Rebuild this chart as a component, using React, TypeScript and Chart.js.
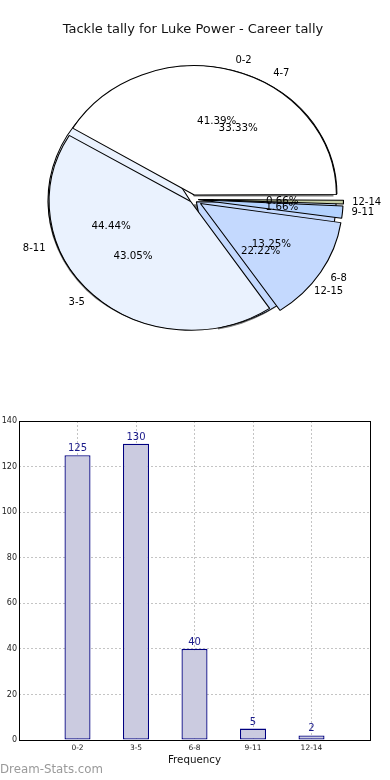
import React, { useEffect, useRef } from 'react';
import { Chart, registerables } from 'chart.js';

Chart.register(...registerables);

// ---------- data ----------
const TITLE = 'Tackle tally for Luke Power - Career tally';

const pieLabels = ['0-2', '3-5', '6-8', '9-11', '12-14'];
const pieValues = [125, 130, 40, 5, 2];

const backLabels = ['4-7', '8-11', '12-15'];
const backValues = [3, 4, 2];

const barCategories = ['0-2', '3-5', '6-8', '9-11', '12-14'];
const barValues = [125, 130, 40, 5, 2];
const yMax = 140;
const yStep = 20;
const xTitle = 'Frequency';
const watermark = 'Dream-Stats.com';

// ---------- styles ----------
const pieColors = ['#ffffff', '#eaf2fe', '#c4d9fe', '#b3d2fe', '#c6cfa4'];
const backColors = ['#ffffff', '#eaf2fe', '#c4d9fe'];
const pieExplode = [4.5, 3, 8, 5, 5];
const backExplode = [6, 3, 4];
const FONT = 'DejaVu Sans';
const SX = 1.1; // horizontal stretch of the pie (ellipse)
const PIE_R = 127;
const SHADOW_X = -2.5;
const SHADOW_Y = 2.5;

function arcGeom(arc: any) {
  const p = arc.getProps(['x', 'y', 'startAngle', 'endAngle', 'outerRadius'], true);
  const off = (arc.options.offset || 0) / 4;
  const mid = (p.startAngle + p.endAngle) / 2;
  return { cx: p.x, cy: p.y, s: p.startAngle, e: p.endAngle, R: p.outerRadius, off, mid };
}

function makeEllipsePlugin(withShadow: boolean) {
  return {
    id: 'ellipsePie',
    beforeDatasetsDraw(chart: any) {
      const ctx = chart.ctx;
      const arcs = chart.getDatasetMeta(0).data;
      if (!arcs.length) return;
      const cx = arcs[0].x;
      const cy = arcs[0].y;
      ctx.save();
      ctx.translate(cx, cy);
      ctx.scale(SX, 1);
      ctx.translate(-cx, -cy);
      if (withShadow) {
        ctx.save();
        ctx.fillStyle = 'rgba(35,35,35,0.6)';
        arcs.forEach((arc: any) => {
          const g = arcGeom(arc);
          const ax = g.cx + Math.cos(g.mid) * g.off + SHADOW_X / SX;
          const ay = g.cy + Math.sin(g.mid) * g.off + SHADOW_Y;
          ctx.beginPath();
          ctx.moveTo(ax, ay);
          ctx.arc(ax, ay, g.R, g.s, g.e);
          ctx.closePath();
          ctx.fill();
        });
        ctx.restore();
      }
    },
    afterDatasetsDraw(chart: any) {
      const arcs = chart.getDatasetMeta(0).data;
      if (!arcs.length) return;
      chart.ctx.restore();
    },
  };
}

function drawPieText(ctx: CanvasRenderingContext2D, chart: any) {
  const meta = chart.getDatasetMeta(0);
  const data = chart.data.datasets[0].data as number[];
  const labels = chart.data.labels as string[];
  const total = data.reduce((a, b) => a + b, 0);
  ctx.save();
  ctx.fillStyle = '#000';
  ctx.textBaseline = 'middle';
  meta.data.forEach((arc: any, i: number) => {
    const g = arcGeom(arc);
    const c = Math.cos(g.mid);
    const s = Math.sin(g.mid);
    const bx = g.off * c;
    const by = g.off * s;
    ctx.font = `10px "${FONT}"`;
    ctx.textAlign = c >= 0 ? 'left' : 'right';
    ctx.fillText(labels[i], g.cx + SX * (bx + 1.1 * g.R * c), g.cy + by + 1.1 * g.R * s);
    ctx.font = `10.3px "${FONT}"`;
    ctx.textAlign = 'center';
    ctx.fillText(((data[i] / total) * 100).toFixed(2) + '%', g.cx + SX * (bx + 0.6 * g.R * c), g.cy + by + 0.6 * g.R * s);
  });
  ctx.restore();
}

function pieConfig(labels: string[], values: number[], colors: string[], explode: number[], titleColor: string, withShadow: boolean, extraPlugins: any[]) {
  return {
    type: 'pie' as const,
    data: {
      labels: [...labels].reverse(),
      datasets: [
        {
          data: [...values].reverse(),
          backgroundColor: [...colors].reverse(),
          borderColor: '#000000',
          borderWidth: 1,
          offset: [...explode].reverse().map((v) => v * 4),
        },
      ],
    },
    options: {
      animation: false as const,
      responsive: false,
      events: [] as any[],
      rotation: 90,
      radius: PIE_R,
      layout: { padding: { left: 0, right: 4, top: 0, bottom: 39.2 } },
      plugins: {
        legend: { display: false },
        tooltip: { enabled: false },
        title: {
          display: true,
          text: TITLE,
          color: titleColor,
          font: { family: FONT, size: 13, weight: 'normal' as const },
          padding: { top: 22.2, bottom: 0 },
        },
      },
    },
    plugins: [makeEllipsePlugin(withShadow), ...extraPlugins],
  };
}

export default function App() {
  const backRef = useRef<HTMLCanvasElement>(null);
  const frontRef = useRef<HTMLCanvasElement>(null);
  const barRef = useRef<HTMLCanvasElement>(null);

  useEffect(() => {
    const back = new Chart(backRef.current!, pieConfig(backLabels, backValues, backColors, backExplode, '#111111', true, []) as any);
    const textPlugin = {
      id: 'pieText',
      afterDraw(chart: any) {
        drawPieText(chart.ctx, back);
        drawPieText(chart.ctx, chart);
      },
    };
    const front = new Chart(frontRef.current!, pieConfig(pieLabels, pieValues, pieColors, pieExplode, 'rgba(0,0,0,0)', false, [textPlugin]) as any);

    const framePlugin = {
      id: 'frame',
      afterDatasetsDraw(chart: any) {
        const ctx = chart.ctx;
        const meta = chart.getDatasetMeta(0);
        ctx.save();
        ctx.fillStyle = '#1a1a8a';
        ctx.font = `10px "${FONT}"`;
        ctx.textAlign = 'center';
        ctx.textBaseline = 'alphabetic';
        meta.data.forEach((bar: any, i: number) => {
          ctx.fillText(String(barValues[i]), bar.x, bar.y - 4);
        });
        ctx.restore();
      },
      afterDraw(chart: any) {
        const ctx = chart.ctx;
        const a = chart.chartArea;
        ctx.save();
        ctx.strokeStyle = '#000';
        ctx.lineWidth = 1;
        ctx.strokeRect(Math.round(a.left) + 0.5, Math.round(a.top) + 0.5, Math.round(a.right - a.left), Math.round(a.bottom - a.top));
        ctx.restore();
      },
    };

    const bar = new Chart(barRef.current!, {
      type: 'bar',
      data: {
        datasets: [
          {
            data: barValues.map((v, i) => ({ x: i + 1, y: v })),
            backgroundColor: '#cbcbe0',
            borderColor: '#000080',
            borderWidth: 1.3,
            borderSkipped: false,
            barPercentage: 0.445,
            categoryPercentage: 1,
          },
        ],
      },
      options: {
        animation: false,
        responsive: false,
        events: [],
        layout: { padding: { left: 0, right: 20, top: 21, bottom: 0 } },
        plugins: { legend: { display: false }, tooltip: { enabled: false } },
        scales: {
          x: {
            type: 'linear',
            min: 0,
            max: 6,
            offset: false,
            grid: { color: '#c4c4c4', drawTicks: false, tickLength: 0, offset: false },
            border: { display: false, dash: [2, 2] },
            ticks: {
              stepSize: 1,
              autoSkip: false,
              maxRotation: 0,
              padding: 4,
              color: '#222',
              font: { family: FONT, size: 7.5 },
              callback: (v: any) => barCategories[Number(v) - 1] ?? '',
            },
            title: {
              display: true,
              text: xTitle,
              color: '#111',
              font: { family: FONT, size: 10.3 },
              padding: { top: 0, bottom: 13.8 },
            },
            afterFit: (s: any) => {
              s.height = 40;
            },
          },
          y: {
            min: 0,
            max: yMax,
            grid: { color: '#c4c4c4', drawTicks: false, tickLength: 0 },
            border: { display: false, dash: [2, 2] },
            ticks: {
              stepSize: yStep,
              padding: 2,
              color: '#222',
              font: { family: FONT, size: 8 },
            },
            afterFit: (s: any) => {
              s.width = 19;
            },
          },
        },
      },
      plugins: [framePlugin],
    } as any);

    return () => {
      front.destroy();
      back.destroy();
      bar.destroy();
    };
  }, []);

  return (
    <div style={{ position: 'absolute', left: 0, top: 0, width: 390, height: 780, background: '#fff', overflow: 'hidden' }}>
      <canvas ref={backRef} width={390} height={400} style={{ position: 'absolute', left: 0, top: 0, width: 390, height: 400 }} />
      <canvas ref={frontRef} width={390} height={400} style={{ position: 'absolute', left: 0, top: 0, width: 390, height: 400 }} />
      <canvas ref={barRef} width={390} height={380} style={{ position: 'absolute', left: 0, top: 400, width: 390, height: 380 }} />
      <div
        style={{
          position: 'absolute',
          left: 0,
          top: 763,
          fontFamily: FONT,
          fontSize: 11.8,
          lineHeight: '13px',
          color: '#9a9a9a',
          whiteSpace: 'nowrap',
        }}
      >
        {watermark}
      </div>
    </div>
  );
}
